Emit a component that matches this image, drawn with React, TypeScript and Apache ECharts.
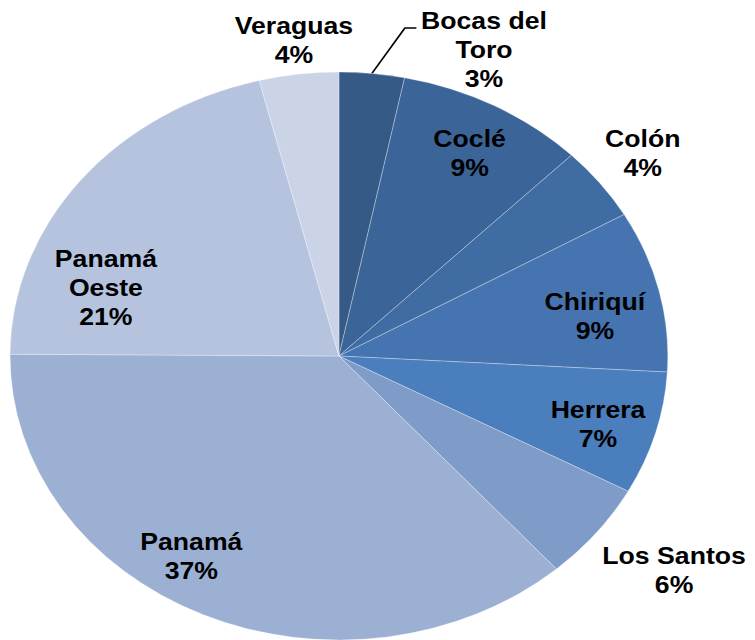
import React, { useEffect, useRef } from "react";
import * as echarts from "echarts";

const categories = [
  "Bocas del\nToro",
  "Coclé",
  "Colón",
  "Chiriquí",
  "Herrera",
  "Los Santos",
  "Panamá",
  "Panamá\nOeste",
  "Veraguas",
];
const shares = [3.2, 9.3, 4.2, 9.2, 7.0, 5.6, 36.6, 21.0, 3.9];
const colors = [
  "#365A86",
  "#3B6598",
  "#406CA4",
  "#4574B1",
  "#4A7EBC",
  "#7F9BC8",
  "#9CB0D4",
  "#B5C3DF",
  "#CBD4E7",
];

// label placement (style): radial fraction of radius, angular shift in degrees
const LABEL_R = [1.164, 0.818, 1.168, 0.791, 0.823, 1.268, 0.836, 0.748, 1.12];
const LABEL_SHIFT = [16.5, 0.8, -0.3, 3, 1, -2, 8, -19.5, 0];

const STRETCH = 1.158;
const W = 755 / STRETCH;
const H = 640;
const CX = 292.7;
const CY = 356;
const R = 284;
const LINE_H = 29;

export default function App() {
  const ref = useRef<HTMLDivElement>(null);
  useEffect(() => {
    if (!ref.current) return;
    const chart = echarts.init(ref.current, null, { renderer: "svg" });
    const total = shares.reduce((a, b) => a + b, 0);
    const mids: number[] = [];
    let acc = 0;
    shares.forEach((v) => {
      mids.push(((acc + v / 2) / total) * 360);
      acc += v;
    });
    const polar = (deg: number, r: number) => {
      const a = (deg * Math.PI) / 180;
      return [CX + r * Math.sin(a), CY - r * Math.cos(a)];
    };
    chart.setOption({
      animation: false,
      backgroundColor: "#ffffff",
      series: [
        {
          type: "pie",
          center: [CX, CY],
          radius: R,
          startAngle: 90,
          clockwise: true,
          avoidLabelOverlap: false,
          itemStyle: { borderColor: "rgba(255,255,255,0.35)", borderWidth: 0.8 },
          label: {
            show: true,
            position: "outside",
            formatter: (p: any) => `${p.name}\n${Math.round(p.percent)}%`,
            fontFamily: "Liberation Sans, Arial, sans-serif",
            fontWeight: "bold",
            fontSize: 23,
            lineHeight: LINE_H,
            color: "#000000",
            align: "center",
          },
          labelLine: { show: false },
          labelLayout: (params: any) => {
            const i = params.dataIndex;
            const [x, y] = polar(mids[i] + LABEL_SHIFT[i], R * LABEL_R[i]);
            const res: any = { x, y, align: "center", verticalAlign: "middle" };
            if (i === 0) {
              const w = params.labelRect.width;
              const h = params.labelRect.height;
              const ly = y - h / 2 + LINE_H / 2 + 7;
              const endX = x - w / 2 - 4;
              const edge = polar(mids[0], R);
              res.labelLinePoints = [edge, [endX - 10, ly], [endX, ly]];
            }
            return res;
          },
          data: categories.map((name, i) => ({
            name,
            value: shares[i],
            itemStyle: { color: colors[i] },
            labelLine:
              i === 0
                ? { show: true, lineStyle: { color: "#000000", width: 1.5 } }
                : { show: false },
          })),
        },
      ],
    });
    return () => chart.dispose();
  }, []);
  return (
    <div
      style={{
        position: "fixed",
        left: 0,
        top: 0,
        width: 755,
        height: 640,
        overflow: "hidden",
        background: "#fff",
      }}
    >
      <div
        ref={ref}
        style={{
          width: W,
          height: H,
          transform: `scaleX(${STRETCH})`,
          transformOrigin: "0 0",
        }}
      />
    </div>
  );
}
